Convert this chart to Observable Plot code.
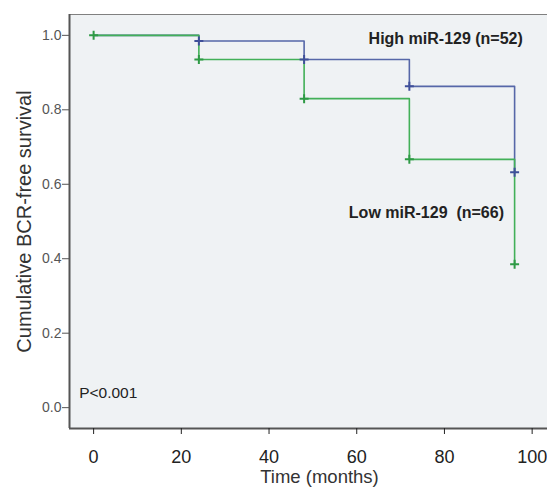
<!DOCTYPE html>
<html>
<head>
<meta charset="utf-8">
<script src="https://cdn.jsdelivr.net/npm/d3@7"></script>
<script src="https://cdn.jsdelivr.net/npm/@observablehq/plot@0.6"></script>
<style>
  html, body { margin: 0; padding: 0; background: #ffffff; }
  svg { font-family: "Liberation Sans", Arial, sans-serif; }
</style>
</head>
<body>
<div id="chart"></div>
<script>
const lowTime = [0, 24, 48, 72, 96];
const lowSurv = [1.0, 0.935, 0.83, 0.667, 0.385];
const highTime = [0, 24, 48, 72, 96];
const highSurv = [1.0, 0.985, 0.935, 0.863, 0.632];
const censorLowTime = [0, 24, 48, 72, 96];
const censorLowSurv = [1.0, 0.935, 0.83, 0.667, 0.385];
const censorHighTime = [24, 48, 72, 96];
const censorHighSurv = [0.985, 0.935, 0.863, 0.632];
const xTicks = [0, 20, 40, 60, 80, 100];
const yTicks = [0.0, 0.2, 0.4, 0.6, 0.8, 1.0];
const xDomain = [-5.5, 103.5];
const yDomain = [-0.056, 1.056];
const labels = [
  {text: "High miR-129 (n=52)", x: 62.7, y: 0.99, weight: "bold"},
  {text: "Low miR-129  (n=66)", x: 58.2, y: 0.522, weight: "bold"},
  {text: "P<0.001", x: -3.3, y: 0.038, weight: "normal"}
];

const blue = "#5667a8";
const green = "#42b058";

const low = lowTime.map((t, i) => ({t, s: lowSurv[i]}));
const high = highTime.map((t, i) => ({t, s: highSurv[i]}));
const cLow = censorLowTime.map((t, i) => ({t, s: censorLowSurv[i]}));
const cHigh = censorHighTime.map((t, i) => ({t, s: censorHighSurv[i]}));

const chart = Plot.plot({
  width: 547,
  height: 487,
  marginLeft: 69,
  marginRight: 0,
  marginTop: 14,
  marginBottom: 59,
  style: {fontFamily: '"Liberation Sans", Arial, sans-serif', background: "#ffffff", overflow: "visible"},
  x: {domain: xDomain},
  y: {domain: yDomain},
  marks: [
    Plot.frame({fill: "#eff2f4", stroke: "#808080", strokeWidth: 1}),
    Plot.ruleX([xDomain[0]], {stroke: "#555", strokeWidth: 2}),
    Plot.ruleY([yDomain[0]], {stroke: "#555", strokeWidth: 2}),
    Plot.axisY({ticks: yTicks, tickFormat: d3.format(".1f"), tickSize: 7, tickPadding: 1, fontSize: 14, color: "#555", label: null}),
    Plot.axisX({ticks: xTicks, tickSize: 6, tickPadding: 16, fontSize: 18, color: "#222", label: null}),
    Plot.text(["Cumulative BCR-free survival"], {frameAnchor: "left", textAnchor: "middle", dx: -45, dy: 0, rotate: -90, fontSize: 20, fill: "#333"}),
    Plot.text(["Time (months)"], {frameAnchor: "bottom", textAnchor: "middle", dy: 54, dx: 11, fontSize: 18.5, fill: "#333"}),
    Plot.line(high, {x: "t", y: "s", curve: "step-after", stroke: blue, strokeWidth: 1.6}),
    Plot.line(low, {x: "t", y: "s", curve: "step-after", stroke: green, strokeWidth: 1.6}),
    Plot.dot(cHigh, {x: "t", y: "s", symbol: "plus", r: 3, stroke: "#3f4f9a", strokeWidth: 2}),
    Plot.dot(cLow, {x: "t", y: "s", symbol: "plus", r: 3, stroke: "#2e9a45", strokeWidth: 2}),
    Plot.text(labels.filter(d => d.weight === "bold"), {x: "x", y: "y", text: "text", textAnchor: "start", fontSize: 16, fontWeight: "bold", fill: "#222"}),
    Plot.text(labels.filter(d => d.weight !== "bold"), {x: "x", y: "y", text: "text", textAnchor: "start", fontSize: 15.5, fill: "#222"})
  ]
});
// enlarge the y tick labels (axis text size)
d3.select(chart).selectAll("g").filter(function () {
  const a = this.getAttribute("aria-label") || "";
  return a.startsWith("y-axis");
}).selectAll("text").style("font-size", "14px");
document.getElementById("chart").appendChild(chart);
</script>
</body>
</html>
